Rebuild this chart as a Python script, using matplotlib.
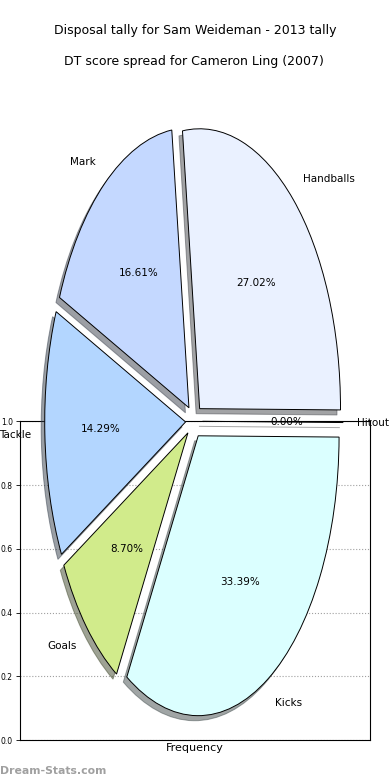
import matplotlib
matplotlib.use('Agg')
import matplotlib.pyplot as plt

labels = ['Handballs', 'Hitout', 'Kicks', 'Goals', 'Tackle', 'Mark']
shares = [27.02, 0.00, 33.39, 8.70, 14.29, 16.61]
colors = ['#eaf1ff', '#ffffff', '#dbffff', '#d1eb8b', '#b3d6ff', '#c4d8ff']
explode = [0.06] * len(labels)
yticks = [0.0, 0.2, 0.4, 0.6, 0.8, 1.0]

fig = plt.figure(figsize=(3.9, 7.8), dpi=100)

# frame axes behind the pie
ax2 = fig.add_axes([0.051, 0.051, 0.897, 0.409])
ax2.set_ylim(0, 1)
ax2.set_xticks([])
ax2.set_yticks(yticks)
ax2.set_yticklabels(['%.1f' % v for v in yticks], fontsize=5.5)
ax2.tick_params(axis='y', length=3, width=0.6, pad=2)
ax2.yaxis.grid(True, linestyle=':', color='#a0a0a0', linewidth=0.8)
ax2.set_xlabel('Frequency', fontsize=8, labelpad=2)
for s in ax2.spines.values():
    s.set_linewidth(0.8)

ax = fig.add_axes([0.046, 0.0115, 0.903, 0.897])
ax.patch.set_visible(False)
ax.pie(shares, labels=labels, colors=colors, explode=explode,
       autopct='%.2f%%', shadow={'ox': -0.018, 'oy': -0.013},
       startangle=97, counterclock=False,
       wedgeprops={'edgecolor': 'black', 'linewidth': 0.7},
       textprops={'fontsize': 7.5})
ax.set_aspect('auto')
ax.set_xlim(-1.25, 1.25)
ax.set_ylim(-1.25, 1.25)
ax.set_title('DT score spread for Cameron Ling (2007)', fontsize=9, pad=4.5)

fig.suptitle('Disposal tally for Sam Weideman - 2013 tally', fontsize=9, y=1 - 24 / 780)
fig.text(0.0, 0.012, 'Dream-Stats.com', fontsize=7.8, color='#a0a0a0',
         fontweight='bold', ha='left', va='center')

fig.savefig('out.png', dpi=100)
